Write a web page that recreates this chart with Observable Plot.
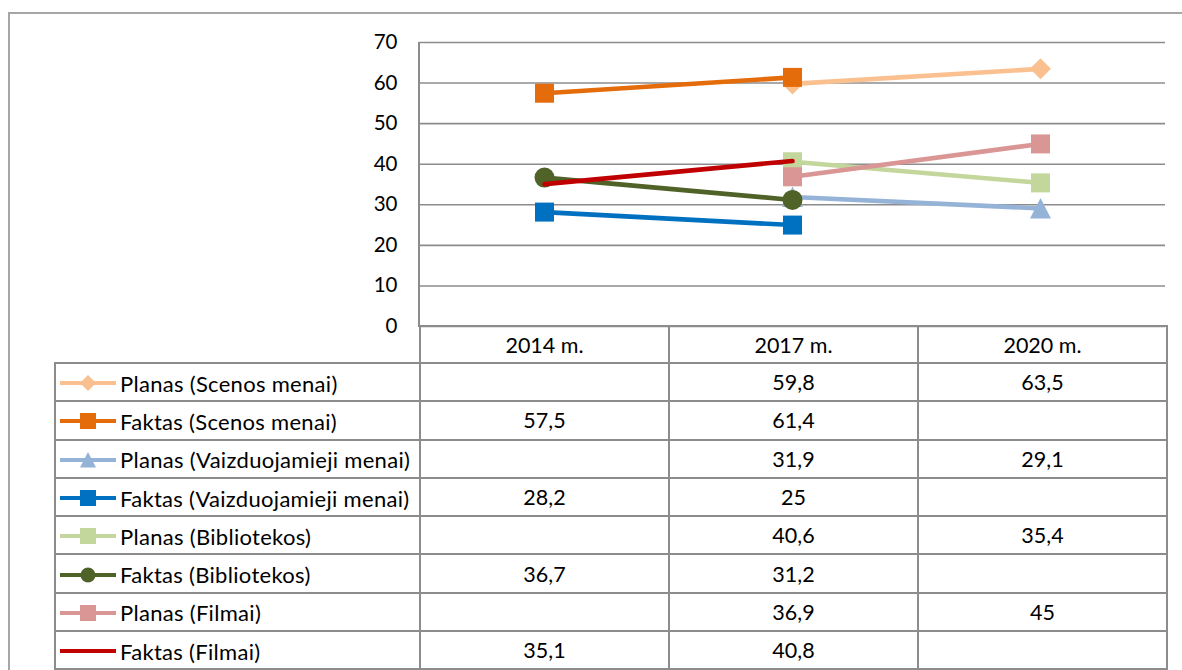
<!DOCTYPE html>
<html><head><meta charset="utf-8">
<script src="https://cdn.jsdelivr.net/npm/d3@7"></script>
<script src="https://cdn.jsdelivr.net/npm/@observablehq/plot@0.6"></script>
<style>
body{margin:0;background:#fff;font-family:Lato,sans-serif;}
#wrap{position:relative;width:1182px;height:670px;overflow:hidden;background:#fff;}
#frame{position:absolute;left:8px;top:12px;width:1400px;height:900px;border:2px solid #a6a6a6;box-sizing:border-box;}
#chart{position:absolute;left:0;top:0;}
#axisline{position:absolute;left:418px;top:42px;width:2px;height:285px;background:#8c8c8c;}
table{position:absolute;left:54px;top:325px;border-collapse:collapse;table-layout:fixed;font-family:Lato,sans-serif;font-size:21.5px;color:#000;}
td{border:2px solid #8c8c8c;padding:0;text-align:center;white-space:nowrap;overflow:visible;}
tr.head td{height:35px;}
tr.row td{height:36.3px;}
td.blank{border-top:none;border-left:none;}
td.lab{text-align:left;}
td.lab svg{vertical-align:middle;margin-left:4px;margin-right:4px;}
td.lab span{vertical-align:middle;font-size:22px;letter-spacing:0.3px;}
</style></head>
<body><div id="wrap"><div id="frame"></div><div id="chart"></div><div id="axisline"></div><table id="tbl"></table></div>
<script>
// ---- data ----
const years = ["2014 m.", "2017 m.", "2020 m."];
const seriesNames = [
  "Planas (Scenos menai)", "Faktas (Scenos menai)",
  "Planas (Vaizduojamieji menai)", "Faktas (Vaizduojamieji menai)",
  "Planas (Bibliotekos)", "Faktas (Bibliotekos)",
  "Planas (Filmai)", "Faktas (Filmai)"
];
const planasScenos = [null, 59.8, 63.5];
const faktasScenos = [57.5, 61.4, null];
const planasVaizd = [null, 31.9, 29.1];
const faktasVaizd = [28.2, 25, null];
const planasBibl = [null, 40.6, 35.4];
const faktasBibl = [36.7, 31.2, null];
const planasFilmai = [null, 36.9, 45];
const faktasFilmai = [35.1, 40.8, null];
const yTicks = [0, 10, 20, 30, 40, 50, 60, 70];

const seriesValues = [planasScenos, faktasScenos, planasVaizd, faktasVaizd, planasBibl, faktasBibl, planasFilmai, faktasFilmai];
// ---- styles ----
const colors = ["#FAC090", "#E46C0A", "#95B3D7", "#0070C0", "#C3D69B", "#4F6228", "#D99694", "#C00000"];
const markers = ["diamond", "square", "triangle", "square", "square", "circle", "square", null];
const markerWidth = {diamond: 21, square: 19, triangle: 21, circle: 20};

const sym = {
  square: {draw(c, s){const h = Math.sqrt(s)/2; c.moveTo(-h,-h); c.lineTo(h,-h); c.lineTo(h,h); c.lineTo(-h,h); c.closePath();}},
  diamond: {draw(c, s){const h = Math.sqrt(s)/2; c.moveTo(0,-h); c.lineTo(h,0); c.lineTo(0,h); c.lineTo(-h,0); c.closePath();}},
  triangle: {draw(c, s){const h = Math.sqrt(s)/2; c.moveTo(0,-h); c.lineTo(h,h*0.95); c.lineTo(-h,h*0.95); c.closePath();}},
  circle: {draw(c, s){const h = Math.sqrt(s)/2; c.moveTo(h,0); c.arc(0,0,h,0,2*Math.PI);}}
};

const marks = [Plot.ruleY(yTicks, {stroke: "#8c8c8c", strokeWidth: 1.6})];
seriesNames.forEach((name, i) => {
  const rows = years.map((yr, j) => ({series: name, year: yr, value: seriesValues[i][j]})).filter(d => d.value != null);
  marks.push(Plot.line(rows, {x: "year", y: "value", stroke: colors[i], strokeWidth: 4.6, strokeLinejoin: "round"}));
  if (markers[i]) {
    marks.push(Plot.dot(rows, {x: "year", y: "value", symbol: sym[markers[i]], r: markerWidth[markers[i]] / Math.sqrt(Math.PI), fill: colors[i], stroke: "none"}));
  }
});

const chart = Plot.plot({
  width: 1182, height: 327,
  marginTop: 42, marginBottom: 1, marginLeft: 419, marginRight: 17,
  x: {type: "point", domain: years, padding: 0.5, axis: null},
  y: {domain: [0, 70], ticks: yTicks, tickSize: 0, tickPadding: 22, label: null},
  style: {fontFamily: "Lato, sans-serif", fontSize: "20.5px", color: "#000", background: "transparent", overflow: "visible"},
  marks
});
document.getElementById("chart").appendChild(chart);

// ---- data table ----
const fmt = v => v == null ? "" : String(v).replace(".", ",");
const tbl = document.getElementById("tbl");
const colg = document.createElement("colgroup");
[365, 249, 249, 249].forEach(w => { const c = document.createElement("col"); c.style.width = w + "px"; colg.appendChild(c); });
tbl.appendChild(colg);
const head = document.createElement("tr"); head.className = "head";
head.innerHTML = `<td class="blank"></td>` + years.map(y => `<td>${y}</td>`).join("");
tbl.appendChild(head);

function swatch(i) {
  const w = 56, h = 20;
  let s = `<svg width="${w}" height="${h}" viewBox="0 0 ${w} ${h}"><line x1="1" x2="${w-1}" y1="10" y2="10" stroke="${colors[i]}" stroke-width="4.2" stroke-linecap="round"/>`;
  if (markers[i]) {
    const lw = markers[i] === "circle" ? 15 : 16;
    const pa = d3.path(); sym[markers[i]].draw(pa, lw * lw);
    s += `<path transform="translate(${w/2},10)" d="${pa.toString()}" fill="${colors[i]}"/>`;
  }
  return s + `</svg>`;
}
seriesNames.forEach((name, i) => {
  const tr = document.createElement("tr"); tr.className = "row";
  tr.innerHTML = `<td class="lab">${swatch(i)}<span>${name}</span></td>` + seriesValues[i].map(v => `<td>${fmt(v)}</td>`).join("");
  tbl.appendChild(tr);
});
</script>
</body></html>
